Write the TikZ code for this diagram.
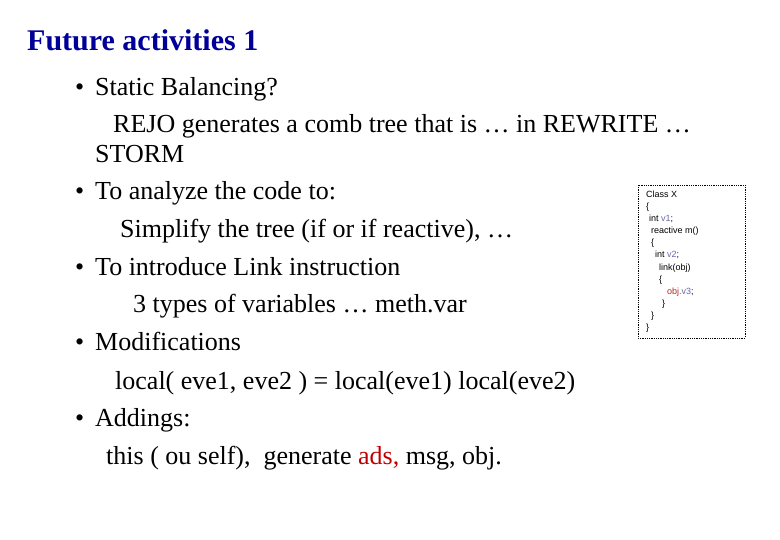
\documentclass[tikz,border=0pt]{standalone}
\usepackage{fontspec}
\setmainfont{Liberation Serif}
\newfontfamily\codefont{Liberation Sans}
\definecolor{titleblue}{RGB}{0,0,153}
\definecolor{adsred}{RGB}{192,0,0}
\definecolor{varc}{RGB}{102,102,170}
\definecolor{objred}{RGB}{180,40,40}
\begin{document}
\begin{tikzpicture}[x=1pt,y=-1pt,
  txt/.style={anchor=base west,inner sep=0pt,font=\fontsize{26}{30}\selectfont},
  code/.style={anchor=base west,inner sep=0pt,font=\codefont\fontsize{9}{10}\selectfont}]
\useasboundingbox (0,0) rectangle (780,540);
\node[anchor=base west,inner sep=0pt,font=\bfseries\fontsize{30}{34}\selectfont,text=titleblue] (title) at (27,51) {Future activities 1};
\node[txt] (b1) at (75,96) {•};
\node[txt] (l1) at (95,96) {Static Balancing?};
\node[txt] (l2) at (113,133) {REJO generates a comb tree that is … in REWRITE …};
\node[txt] (l3) at (95,163) {STORM};
\node[txt] (b2) at (75,200) {•};
\node[txt] (l4) at (95,200) {To analyze the code to:};
\node[txt] (l5) at (120,238) {Simplify the tree (if or if reactive), …};
\node[txt] (b3) at (75,276) {•};
\node[txt] (l6) at (95,276) {To introduce Link instruction};
\node[txt] (l7) at (133,313) {3 types of variables … meth.var};
\node[txt] (b4) at (75,351) {•};
\node[txt] (l8) at (95,351) {Modifications};
\node[txt] (l9) at (115,389) {local( eve1, eve2 ) = local(eve1) local(eve2)};
\node[txt] (b5) at (75,426) {•};
\node[txt] (l10) at (95,426) {Addings:};
\node[txt] (l11) at (106,464) {this ( ou self),\ \ generate \textcolor{adsred}{ads,} msg, obj.};
\draw[densely dotted,line width=0.8pt] (638,185) rectangle (745,338);
\node[code] (c1) at (646,198) {Class X};
\node[code] (c2) at (646,210) {\{};
\node[code] (c3) at (649,222) {int \textcolor{varc}{v1};};
\node[code] (c4) at (651,234) {reactive m()};
\node[code] (c5) at (651,246) {\{};
\node[code] (c6) at (655,258) {int \textcolor{varc}{v2};};
\node[code] (c7) at (659,271) {link(obj)};
\node[code] (c8) at (659,283) {\{};
\node[code] (c9) at (667,295) {\textcolor{objred}{obj.}\textcolor{varc}{v3};};
\node[code] (c10) at (662,307) {\}};
\node[code] (c11) at (651,319) {\}};
\node[code] (c12) at (646,331) {\}};
\end{tikzpicture}
\end{document}
